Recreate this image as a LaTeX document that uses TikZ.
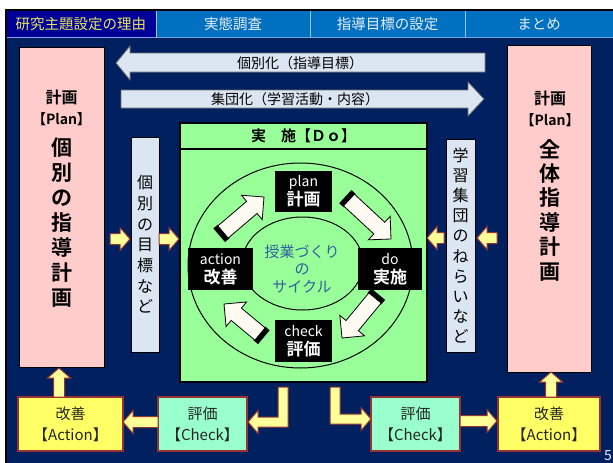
\documentclass[tikz,border=0pt]{standalone}
\usepackage{fontspec}
\setmainfont{Noto Sans CJK JP}[BoldFont={Noto Sans CJK JP Bold}]
\usetikzlibrary{calc}
\definecolor{navybg}{HTML}{002060}
\definecolor{tabdark}{HTML}{000099}
\definecolor{tabblue}{HTML}{0070C0}
\definecolor{tabline}{HTML}{9DC3E6}
\definecolor{tabunder}{HTML}{9999EE}
\definecolor{tabyellow}{HTML}{E6E65A}
\definecolor{tabtext}{HTML}{E8EEF6}
\definecolor{pinkfill}{HTML}{FFCCCC}
\definecolor{grayblue}{HTML}{DCE6F2}
\definecolor{greenfill}{HTML}{99FF99}
\definecolor{arrowfill}{HTML}{FFFF99}
\definecolor{arrowedge}{HTML}{993333}
\definecolor{actfill}{HTML}{FFFF66}
\definecolor{chkfill}{HTML}{99FFCC}
\definecolor{cream}{HTML}{FFFBF2}
\definecolor{cycletext}{HTML}{2F5F9F}
\definecolor{longedge}{HTML}{6F6F6F}
\newcommand\fs[2]{\fontsize{#1}{#2}\selectfont}
\tikzset{
  planbox/.style={draw=black, line width=1pt, fill=pinkfill},
  gbox/.style={draw=black, line width=0.8pt, fill=grayblue},
  longarr/.style={draw=longedge, line width=0.8pt, fill=grayblue},
  yarr/.style={draw=arrowedge, line width=1pt, fill=arrowfill, line join=miter},
  blackbox/.style={fill=black, text=white, align=center, font=\fs{14}{19}},
  actbox/.style={draw=arrowedge, line width=1.2pt, fill=actfill, align=center, font=\fs{15}{21}, text=black!85},
  chkbox/.style={draw=arrowedge, line width=1.2pt, fill=chkfill, align=center, font=\fs{15}{21}, text=black!85},
  tabtxt/.style={font=\fs{14.5}{17}},
}
\newcommand\harrow[3]{%
  \pgfmathsetmacro\hb{#2-10*sign(#2-#1)}%
  \draw[yarr] (#1,#3-5.5) -- (\hb,#3-5.5) -- (\hb,#3-11.5) -- (#2,#3) -- (\hb,#3+11.5) -- (\hb,#3+5.5) -- (#1,#3+5.5) -- cycle;}
\newcommand\varrow[3]{%
  \pgfmathsetmacro\vb{#2-10*sign(#2-#1)}%
  \draw[yarr] (#3-5.5,#1) -- (#3-5.5,\vb) -- (#3-11.5,\vb) -- (#3,#2) -- (#3+11.5,\vb) -- (#3+5.5,\vb) -- (#3+5.5,#1) -- cycle;}
\newcommand\fatarrow[4]{%
  \pgfmathsetmacro\fa{atan2(-(#4-#2),#3-#1)}%
  \pgfmathsetmacro\fl{veclen(#3-#1,#4-#2)}%
  \pgfmathsetmacro\fh{\fl-16}%
  \begin{scope}[shift={(#1,#2)},rotate=\fa]
    \fill[black] (-5,-9) rectangle (1,9);
    \draw[fill=cream,line width=0.8pt,line join=miter] (0,-8) -- (\fh,-8) -- (\fh,-16) -- (\fl,0) -- (\fh,16) -- (\fh,8) -- (0,8) -- cycle;
  \end{scope}}
\begin{document}
\begin{tikzpicture}[x=1pt,y=-1pt,every node/.style={inner sep=0pt}]
\useasboundingbox (0,0) rectangle (613,463);
\fill[white] (0,0) rectangle (613,463);
% main background
\fill[navybg] (6,37) rectangle (613,463);
% tabs
\fill[tabdark] (6,11) rectangle (156,37);
\fill[tabblue] (156,11) rectangle (613,37);
\draw[tabline,line width=0.8pt] (156,11) -- (156,37) (310,11) -- (310,37) (465,11) -- (465,37);
\draw[black,line width=2pt] (6,463) -- (6,10) -- (613,10);
\draw[tabunder,line width=1.5pt] (7,37.5) -- (156,37.5);
\draw[tabline!70!tabblue,line width=1pt] (156,37.5) -- (613,37.5);
\node[tabtxt,text=tabyellow] (t1) at (81,24) {研究主題設定の理由};
\node[tabtxt,text=tabtext] (t2) at (233,24) {実態調査};
\node[tabtxt,text=tabtext] (t3) at (387.5,24) {指導目標の設定};
\node[tabtxt,text=tabtext] (t4) at (539,24) {まとめ};
% pink plan boxes
\node[planbox,minimum width=85,minimum height=320] (planL) at (61.5,207) {};
\node[planbox,minimum width=84,minimum height=327] (planR) at (549,208.5) {};
\node[font=\fs{16}{20}\bfseries] (pl1) at (61.5,97) {計画};
\node[font=\fs{14}{18}\bfseries] (pl2) at (61.5,119) {【Plan】};
\node[font=\fs{21}{25}\bfseries,align=center] (pl3) at (61.5,223) {個\\別\\の\\指\\導\\計\\画};
\node[font=\fs{16}{20}\bfseries] (pr1) at (550,98) {計画};
\node[font=\fs{14}{18}\bfseries] (pr2) at (550,120) {【Plan】};
\node[font=\fs{21}{24.4}\bfseries,align=center] (pr3) at (550,210) {全\\体\\指\\導\\計\\画};
% long arrows
\draw[longarr] (485,53) -- (130,53) -- (130,46) -- (116,63) -- (130,80) -- (130,72) -- (485,72) -- cycle;
\draw[longarr] (121,90) -- (468,90) -- (468,82) -- (484,99) -- (468,116) -- (468,108) -- (121,108) -- cycle;
\node[font=\fs{14}{17}] (lt1) at (300,63) {個別化（指導目標）};
\node[font=\fs{14}{17}] (lt2) at (295,99) {集団化（学習活動・内容）};
% vertical text boxes
\node[gbox,minimum width=28,minimum height=215,font=\fs{16}{20.7},align=center] (vL) at (145,244.5) {個\\別\\の\\目\\標\\な\\ど};
\node[gbox,minimum width=29,minimum height=213,font=\fs{16}{20.2},align=center] (vR) at (460.5,245.5) {学\\習\\集\\団\\の\\ね\\ら\\い\\な\\ど};
% green Do box
\node[draw=black,line width=1.5pt,fill=greenfill,minimum width=247,minimum height=259] (dobox) at (303.5,252.5) {};
\draw[black,line width=1.2pt] (dobox.west |- 0,149) -- (dobox.east |- 0,149);
\node[font=\fs{15}{18}\bfseries] (dotitle) at (303.5,136) {実　施【Ｄｏ】};
% cycle
\draw[black,line width=1pt] (300.5,265.5) ellipse [x radius=112.5,y radius=102.5];
\draw[black,line width=1pt] (302.5,263.5) ellipse [x radius=60.5,y radius=46.5];
\node[font=\fs{15}{17.5},text=cycletext,align=center] (core) at (302,269) {授業づくり\\の\\サイクル};
\fatarrow{223}{232}{264}{197}
\fatarrow{349}{200}{391}{239}
\fatarrow{375}{298}{342}{338}
\fatarrow{260}{334}{224}{304}
\node[blackbox,minimum width=57,minimum height=41] (plan) at (303.5,191.5) {plan\\\fontsize{17}{19}\selectfont\bfseries 計画};
\node[blackbox,minimum width=64,minimum height=42] (do) at (390,269) {do\\\fontsize{17}{19}\selectfont\bfseries 実施};
\node[blackbox,minimum width=57,minimum height=42] (check) at (303.5,341) {check\\\fontsize{17}{19}\selectfont\bfseries 評価};
\node[blackbox,minimum width=65,minimum height=42] (action) at (220.5,269) {action\\\fontsize{17}{19}\selectfont\bfseries 改善};
% small yellow arrows at the side boxes
\harrow{110}{130}{239}
\harrow{159}{179}{239}
\harrow{444}{427}{238}
\harrow{497}{477}{238}
% bottom boxes
\node[actbox,minimum width=105,minimum height=54] (actL) at (70.5,424) {改善\\【Action】};
\node[chkbox,minimum width=89,minimum height=54] (chkL) at (202.5,424) {評価\\【Check】};
\node[chkbox,minimum width=89,minimum height=54] (chkR) at (415.5,424) {評価\\【Check】};
\node[actbox,minimum width=102,minimum height=54] (actR) at (549,424) {改善\\【Action】};
% bottom arrows
\draw[yarr] (278,387) -- (288,387) -- (288,427) -- (258,427) -- (258,433.5) -- (248,422) -- (258,410.5) -- (258,417) -- (278,417) -- cycle;
\draw[yarr] (330,387) -- (340,387) -- (340,414) -- (361,414) -- (361,407.5) -- (371,419) -- (361,430.5) -- (361,424) -- (330,424) -- cycle;
\harrow{158}{123}{422}
\harrow{460}{497}{421}
\varrow{397}{368}{59}
\varrow{397}{372}{551}
\node[font=\fs{14}{16},text=tabtext,anchor=west] (pg) at (604,456) {5};
\end{tikzpicture}
\end{document}
